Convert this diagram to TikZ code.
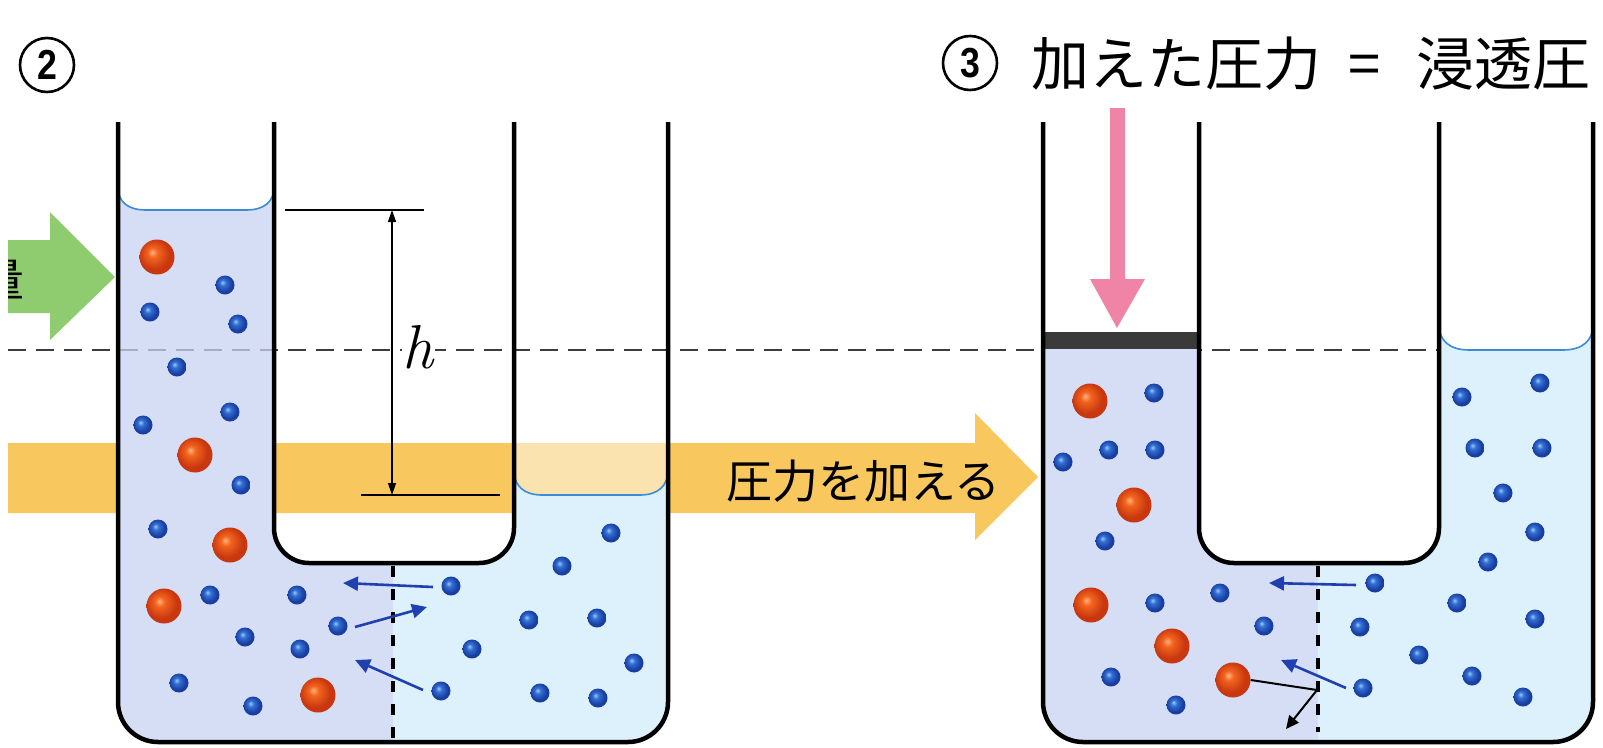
\documentclass[tikz,border=0pt]{standalone}
\usepackage{fontspec}
\usepackage{graphicx}
\setsansfont{Liberation Sans}
\newfontfamily\jpfont{Noto Sans CJK JP}
\usetikzlibrary{arrows.meta}

\definecolor{solcol}{RGB}{214,222,246}
\definecolor{watcol}{RGB}{220,241,252}
\definecolor{meniscol}{RGB}{58,140,215}
\definecolor{bandcol}{RGB}{248,200,95}
\definecolor{greencol}{RGB}{143,204,112}
\definecolor{pinkcol}{RGB}{240,132,166}
\definecolor{pistoncol}{RGB}{58,58,58}
\definecolor{flowcol}{RGB}{32,64,176}
\definecolor{levelcol}{RGB}{60,60,60}
\definecolor{orhi}{RGB}{255,180,130}
\definecolor{ormain}{RGB}{244,100,30}
\definecolor{ordark}{RGB}{200,55,15}
\definecolor{blhi}{RGB}{160,200,250}
\definecolor{blmain}{RGB}{50,112,212}
\definecolor{bldark}{RGB}{25,62,160}

\pgfdeclareradialshading{orangesphere}{\pgfpoint{-7bp}{7bp}}{%
  color(0bp)=(orhi); color(7bp)=(ormain); color(22bp)=(ordark); color(50bp)=(ordark)}
\pgfdeclareradialshading{bluesphere}{\pgfpoint{-7bp}{7bp}}{%
  color(0bp)=(blhi); color(8bp)=(blmain); color(22bp)=(bldark); color(50bp)=(bldark)}

\tikzset{
  wall/.style={line width=4.5pt, line join=round},
  meniscus/.style={meniscol, line width=1.6pt},
  level/.style={levelcol, line width=2.2pt, dash pattern=on 18pt off 10pt},
  membrane/.style={line width=4pt, dash pattern=on 11pt off 12pt},
  solute/.style={circle, inner sep=0pt, minimum size=35pt, shade, shading=orangesphere},
  solvent/.style={circle, inner sep=0pt, minimum size=19pt, shade, shading=bluesphere},
  flow/.style={flowcol, line width=2.6pt, -{Triangle[length=15pt,width=14pt]}},
  push/.style={line width=2pt, line join=miter, -{Triangle[length=13pt,width=12pt]}},
  dimline/.style={line width=1.8pt},
  dimarrow/.style={line width=1.3pt, {Triangle[length=12pt,width=8pt]}-{Triangle[length=12pt,width=8pt]}},
  jp/.style={inner sep=0pt, font=\jpfont\fontsize{#1}{#1}\selectfont},
  stepnum/.style={circle, draw, line width=2.6pt, minimum size=54pt, inner sep=0pt,
    font=\sffamily\bfseries\fontsize{42}{42}\selectfont},
}

\begin{document}
\begin{tikzpicture}[x=1pt,y=-1pt]
\useasboundingbox (0,0) rectangle (1603,747);

% green arrow on the far left, with its cut-off label
\fill[greencol] (8,240) -- (50,240) -- (50,212) -- (115,277) -- (50,340) -- (50,313) -- (8,313) -- cycle;
\begin{scope}
  \clip (8,200) rectangle (130,360);
  \node[jp=45, anchor=base east] (qty) at (25,296) {量};
\end{scope}

% broad yellow arrow: "apply pressure"
\fill[bandcol] (8,443) -- (975,443) -- (975,413) -- (1038,477) -- (975,540) -- (975,513) -- (8,513) -- cycle;
\fill[white, opacity=0.5] (514,443) rectangle (668,513);

% reference level
\coordinate (lvlL) at (8,350);
\coordinate (lvlR) at (1580,350);
\draw[level] (lvlL) -- (lvlR);

% ---- panel 2: liquids ----
\fill[solcol] (118,187) -- (118,702) .. controls (118,724) and (136,742) .. (158,742)
  -- (393,742) -- (393,563) -- (309,563) .. controls (290,563) and (274,547) .. (274,528)
  -- (274,187) .. controls (274,202) and (264,210) .. (246,210) -- (146,210)
  .. controls (128,210) and (118,202) .. (118,187) -- cycle;
\fill[watcol] (393,742) -- (628,742) .. controls (650,742) and (668,724) .. (668,702)
  -- (668,470) .. controls (668,486) and (658,495) .. (640,495) -- (542,495)
  .. controls (524,495) and (514,486) .. (514,470) -- (514,528)
  .. controls (514,547) and (498,563) .. (479,563) -- (393,563) -- cycle;

% ---- panel 3: liquids ----
\fill[solcol] (1043,349) -- (1043,702) .. controls (1043,724) and (1061,742) .. (1083,742)
  -- (1318,742) -- (1318,563) -- (1234,563) .. controls (1215,563) and (1199,547) .. (1199,528)
  -- (1199,349) -- cycle;
\fill[watcol] (1318,742) -- (1553,742) .. controls (1575,742) and (1593,724) .. (1593,702)
  -- (1593,325) .. controls (1593,340) and (1583,350) .. (1563,350) -- (1469,350)
  .. controls (1449,350) and (1439,340) .. (1439,325) -- (1439,528)
  .. controls (1439,547) and (1423,563) .. (1404,563) -- (1318,563) -- cycle;

% level line seen faintly through the liquid
\begin{scope}
  \clip (118,300) rectangle (274,400);
  \draw[level, opacity=0.3] (lvlL) -- (lvlR);
\end{scope}
\begin{scope}
  \clip (1439,351) rectangle (1593,400);
  \draw[level, opacity=0.3] (lvlL) -- (lvlR);
\end{scope}

% menisci
\draw[meniscus] (118,187) .. controls (118,202) and (128,210) .. (146,210) -- (246,210)
  .. controls (264,210) and (274,202) .. (274,187);
\draw[meniscus] (514,470) .. controls (514,486) and (524,495) .. (542,495) -- (640,495)
  .. controls (658,495) and (668,486) .. (668,470);
\draw[meniscus] (1439,325) .. controls (1439,340) and (1449,350) .. (1469,350) -- (1563,350)
  .. controls (1583,350) and (1593,340) .. (1593,325);

% semipermeable membranes
\draw[membrane] (393,566) -- (393,738);
\draw[membrane] (1318,566) -- (1318,732);

% ---- molecules, panel 2 ----
\foreach \x/\y [count=\i] in {157/257,195/455,230/545,164/606,318/695}
  \node[solute] (sa\i) at (\x,\y) {};
\foreach \x/\y [count=\i] in {225/285,150/312,238/324,177/367,143/425,230/412,241/485,158/529,
    210/595,297/595,245/637,338/626,300/649,179/683,253/706,
    451/586,562/566,611/533,529/620,597/618,472/649,634/663,441/691,540/693,598/698}
  \node[solvent] (wa\i) at (\x,\y) {};

% ---- molecules, panel 3 ----
\foreach \x/\y [count=\i] in {1090/401,1134/505,1091/605,1172/646,1233/680}
  \node[solute] (sb\i) at (\x,\y) {};
\foreach \x/\y [count=\i] in {1154/393,1063/462,1109/450,1155/450,1105/541,1155/603,1220/593,
    1264/626,1111/677,1176/705,
    1375/583,1360/627,1363/688,1419/655,1457/603,1472/676,1523/697,1535/619,1488/562,
    1535/532,1503/493,1475/448,1542/448,1462/397,1540/383}
  \node[solvent] (wb\i) at (\x,\y) {};

% water flow through the membrane
\coordinate (fa1s) at (433,587); \coordinate (fa1e) at (343,583);
\coordinate (fa2s) at (355,627); \coordinate (fa2e) at (427,607);
\coordinate (fa3s) at (423,690); \coordinate (fa3e) at (355,660);
\draw[flow] (fa1s) -- (fa1e);
\draw[flow] (fa2s) -- (fa2e);
\draw[flow] (fa3s) -- (fa3e);
\coordinate (fb1s) at (1356,585); \coordinate (fb1e) at (1269,583);
\coordinate (fb2s) at (1346,688); \coordinate (fb2e) at (1281,660);
\draw[flow] (fb1s) -- (fb1e);
\draw[flow] (fb2s) -- (fb2e);

% solute bounced back by the membrane
\coordinate (bnc) at (1317,690);
\coordinate (bncend) at (1286,729);
\draw[push] (sb5.east) -- (bnc) -- (bncend);

% ---- tube walls ----
\fill[pistoncol] (1043,332) rectangle (1199,349);
\foreach \dx in {0,925} {
  \draw[wall, rounded corners=40pt] (118+\dx,122) -- (118+\dx,742) -- (668+\dx,742) -- (668+\dx,122);
  \draw[wall, rounded corners=35pt] (274+\dx,122) -- (274+\dx,563) -- (514+\dx,563) -- (514+\dx,122);
}

% pink pressure arrow on the piston
\fill[pinkcol] (1110,108) -- (1125,108) -- (1125,279) -- (1145,279) -- (1117,328)
  -- (1090,279) -- (1110,279) -- cycle;

% height difference h
\coordinate (hL1) at (285,210); \coordinate (hR1) at (424,210);
\coordinate (hL2) at (361,495); \coordinate (hR2) at (500,495);
\coordinate (htop) at (392,210); \coordinate (hbot) at (392,495);
\draw[dimline] (hL1) -- (hR1);
\draw[dimline] (hL2) -- (hR2);
\node[fill=white, inner sep=1pt, font=\itshape\fontsize{62}{62}\selectfont] (hlabel) at (418,347) {h};
\draw[dimarrow] (htop) -- (hbot);

% labels
\node[jp=46, anchor=base west] (presslabel) at (726,498) {圧力を加える};
\node[stepnum] (step2) at (47,65) {\scalebox{0.85}[1]{2}};
\node[stepnum] (step3) at (970,63) {\scalebox{0.85}[1]{3}};
\node[jp=58, anchor=base west] (eqleft) at (1031,85) {加えた圧力};
\node[jp=58, anchor=base] (eqsign) at (1365,85) {=};
\node[jp=58, anchor=base west] (eqright) at (1416,85) {浸透圧};
\end{tikzpicture}
\end{document}
